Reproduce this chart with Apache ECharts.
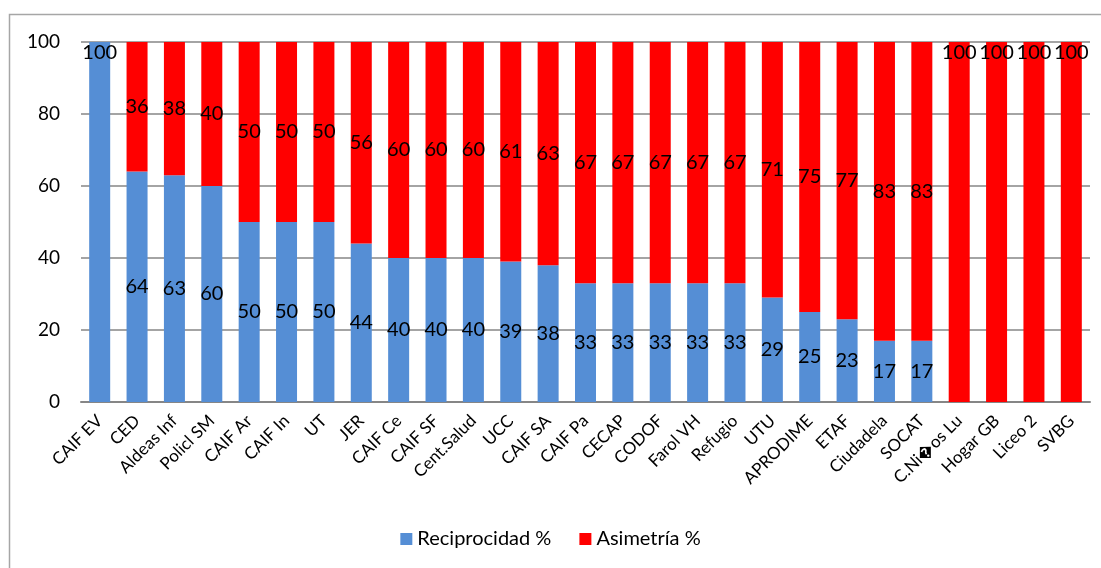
<!DOCTYPE html>
<html>
<head>
<meta charset="utf-8">
<script src="https://cdn.jsdelivr.net/npm/echarts@6/dist/echarts.min.js"></script>
<style>
  html, body { margin: 0; padding: 0; background: #fff; }
  #chart { width: 1101px; height: 568px; }
</style>
</head>
<body>
<div id="chart"></div>
<script>
// Institutions along the x axis
const categories = [
  'CAIF EV', 'CED', 'Aldeas Inf', 'Policl SM', 'CAIF Ar', 'CAIF In', 'UT', 'JER',
  'CAIF Ce', 'CAIF SF', 'Cent.Salud', 'UCC', 'CAIF SA', 'CAIF Pa', 'CECAP', 'CODOF',
  'Farol VH', 'Refugio', 'UTU', 'APRODIME', 'ETAF', 'Ciudadela', 'SOCAT',
  'C.Ni\uFFFDos Lu', 'Hogar GB', 'Liceo 2', 'SVBG'
];

// Percentages per institution
const reciprocidad = [100, 64, 63, 60, 50, 50, 50, 44, 40, 40, 40, 39, 38, 33, 33, 33, 33, 33, 29, 25, 23, 17, 17, 0, 0, 0, 0];
const asimetria    = [0, 36, 38, 40, 50, 50, 50, 56, 60, 60, 60, 61, 63, 67, 67, 67, 67, 67, 71, 75, 77, 83, 83, 100, 100, 100, 100];

const yTicks = [0, 20, 40, 60, 80, 100];

const FONT = 'Lato';

function labelled(values) {
  return values.map(v => {
    if (v === 0) return { value: v, label: { show: false } };
    if (v === 100) return { value: v, label: { show: true, position: 'insideTop', distance: 1 } };
    return { value: v };
  });
}

const chart = echarts.init(document.getElementById('chart'), null, { renderer: 'canvas' });

chart.setOption({
  animation: false,
  backgroundColor: '#ffffff',
  textStyle: { fontFamily: FONT },
  graphic: [{
    type: 'rect',
    shape: { x: 9.5, y: 14.5, width: 1200, height: 700 },
    style: { fill: 'none', stroke: '#a6a6a6', lineWidth: 1.5 },
    silent: true,
    z: -1
  }],
  grid: { left: 81, right: 11, top: 42, bottom: 166, containLabel: false },
  legend: {
    bottom: 14,
    left: 'center',
    itemWidth: 12,
    itemHeight: 12,
    itemGap: 28,
    icon: 'rect',
    textStyle: { fontFamily: FONT, fontSize: 20, color: '#000' },
    data: ['Reciprocidad %', 'Asimetría %']
  },
  xAxis: {
    type: 'category',
    data: categories,
    axisLine: { lineStyle: { color: '#868686', width: 2 } },
    axisTick: { show: false },
    axisLabel: {
      rotate: 45,
      interval: 0,
      margin: 16,
      fontFamily: FONT,
      fontSize: 17,
      color: '#000'
    }
  },
  yAxis: {
    type: 'value',
    min: 0,
    max: 100,
    interval: 20,
    axisLine: { show: false },
    axisTick: { show: false },
    splitLine: { lineStyle: { color: '#868686', width: 1.5 } },
    axisLabel: {
      margin: 21,
      fontFamily: FONT,
      fontSize: 19,
      color: '#000',
      formatter: v => (yTicks.indexOf(v) >= 0 ? String(v) : '')
    }
  },
  series: [
    {
      name: 'Reciprocidad %',
      type: 'bar',
      stack: 'total',
      barWidth: 21,
      itemStyle: { color: '#558ed5' },
      label: { show: true, position: 'inside', fontFamily: FONT, fontSize: 20, color: '#000' },
      data: labelled(reciprocidad)
    },
    {
      name: 'Asimetría %',
      type: 'bar',
      stack: 'total',
      barWidth: 21,
      itemStyle: { color: '#ff0000' },
      label: { show: true, position: 'inside', fontFamily: FONT, fontSize: 20, color: '#000' },
      data: labelled(asimetria)
    }
  ]
});
</script>
</body>
</html>
